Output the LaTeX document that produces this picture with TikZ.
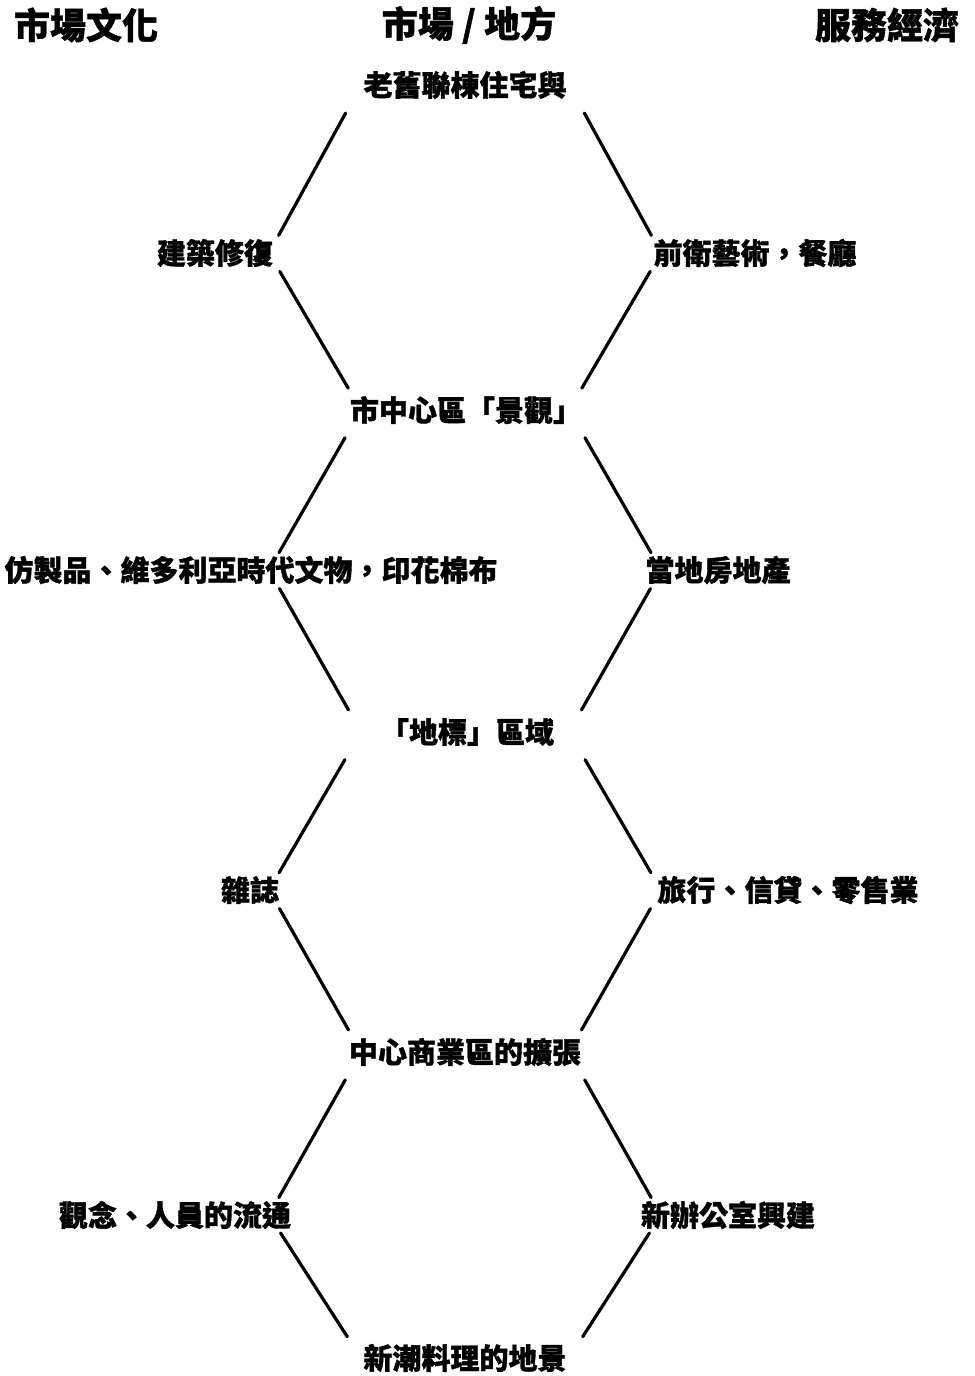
\documentclass[tikz,border=0pt]{standalone}
\usepackage{fontspec}
\setmainfont{Noto Sans CJK TC}[BoldFeatures={FakeBold=1.2}]
\begin{document}
\begin{tikzpicture}[x=0.75pt,y=-0.75pt]
\tikzset{
  head/.style={inner sep=0pt,font=\fontsize{27}{30}\selectfont\bfseries},
  lab/.style={inner sep=0pt,font=\fontsize{21.75}{24}\selectfont\bfseries},
  link/.style={line width=2.4pt,line cap=round},
}
\useasboundingbox (0,0) rectangle (974,1376);
\fill[white] (0,0) rectangle (974,1376);
% headers
\node[head] (h1) at (86,25) {市場文化};
\node[head] (h2) at (469,25) {市場 / 地方};
\node[head] (h3) at (887,25) {服務經濟};
% centre column
\node[lab] (c1) at (465,85) {老舊聯棟住宅與};
\node[lab] (c2) at (466,410) {市中心區「景觀」};
\node[lab] (c3) at (467,732) {「地標」區域};
\node[lab] (c4) at (465,1052) {中心商業區的擴張};
\node[lab] (c5) at (465,1358) {新潮料理的地景};
% left column
\node[lab] (l1) at (215,253) {建築修復};
\node[lab] (l2) at (251,570) {仿製品、維多利亞時代文物，印花棉布};
\node[lab] (l3) at (250,890) {雜誌};
\node[lab] (l4) at (175,1215) {觀念、人員的流通};
% right column
\node[lab] (r1) at (755,253) {前衛藝術，餐廳};
\node[lab] (r2) at (718,570) {當地房地產};
\node[lab] (r3) at (788,890) {旅行、信貸、零售業};
\node[lab] (r4) at (728,1215) {新辦公室興建};
% vertices of the hexagons
\foreach \i/\y in {1/85,2/410,3/732,4/1052,5/1358}{
  \coordinate (tL\i) at (361,\y);
  \coordinate (tR\i) at (569,\y);
}
\foreach \i/\y in {1/253,2/570,3/890,4/1215}{
  \coordinate (sL\i) at (269,\y);
  \coordinate (sR\i) at (661,\y);
}
% connectors
\foreach \i/\j in {1/2,2/3,3/4,4/5}{
  \draw[link,shorten <=24pt,shorten >=15pt] (tL\i) -- (sL\i);
  \draw[link,shorten <=16pt,shorten >=19pt] (sL\i) -- (tL\j);
  \draw[link,shorten <=24pt,shorten >=15pt] (tR\i) -- (sR\i);
  \draw[link,shorten <=16pt,shorten >=19pt] (sR\i) -- (tR\j);
}
\end{tikzpicture}
\end{document}
